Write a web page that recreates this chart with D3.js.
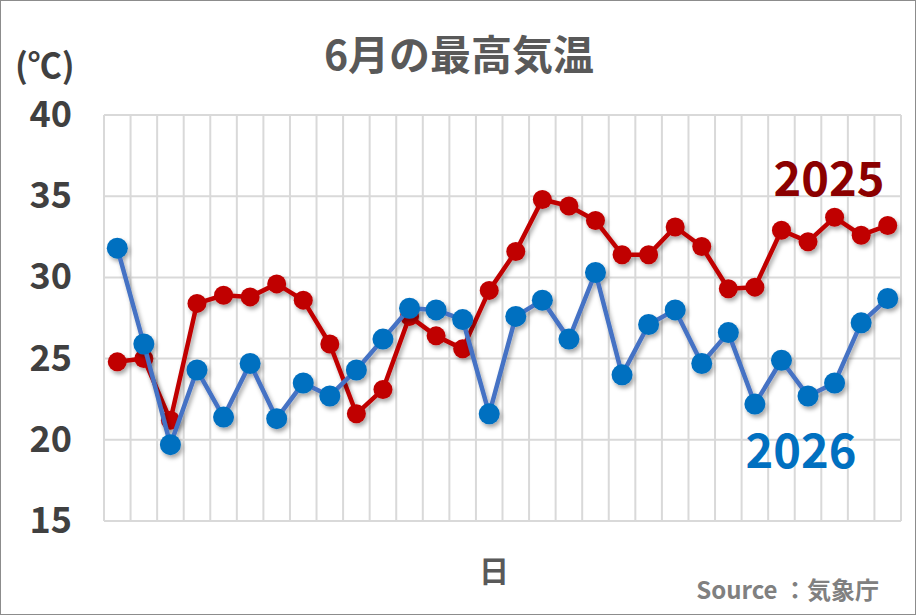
<!DOCTYPE html>
<html>
<head>
<meta charset="utf-8">
<script src="https://cdn.jsdelivr.net/npm/d3@7/dist/d3.min.js"></script>
<style>
  body{margin:0;background:#fff;}
  text{font-family:"Noto Sans CJK JP","Noto Sans",sans-serif;font-weight:bold;}
</style>
</head>
<body>
<div id="chart"></div>
<script>
// 日付 1..30
var days=d3.range(1,31);
var temp2025=[24.8,25.0,21.2,28.4,28.9,28.8,29.6,28.6,25.9,21.6,23.1,27.6,26.4,25.6,29.2,31.6,34.8,34.4,33.5,31.4,31.4,33.1,31.9,29.3,29.4,32.9,32.2,33.7,32.6,33.2];
var temp2026=[31.8,25.9,19.7,24.3,21.4,24.7,21.3,23.5,22.7,24.3,26.2,28.1,28.0,27.4,21.6,27.6,28.6,26.2,30.3,24.0,27.1,28.0,24.7,26.6,22.2,24.9,22.7,23.5,27.2,28.7];
var yTicks=[15,20,25,30,35,40];

var W=916,H=615;
var margin={top:115,right:15,bottom:94,left:104};
var width=W-margin.left-margin.right;
var height=H-margin.top-margin.bottom;

var svg=d3.select('#chart').append('svg')
    .attr('width',W).attr('height',H);

// 影
var defs=svg.append('defs');
defs.append('filter').attr('id','shadow')
    .attr('x','-20%').attr('y','-20%').attr('width','140%').attr('height','140%')
  .append('feDropShadow')
    .attr('dx',2).attr('dy',3).attr('stdDeviation',2)
    .attr('flood-color','#000').attr('flood-opacity',0.35);

// 枠
svg.append('rect').attr('x',0.5).attr('y',0.5).attr('width',W-1).attr('height',H-1)
    .attr('fill','#fff').attr('stroke','#8c8c8c').attr('stroke-width',1);

var g=svg.append('g').attr('transform','translate('+margin.left+','+margin.top+')');

var x=d3.scaleBand().domain(days).range([0,width]);
var y=d3.scaleLinear().domain([15,40]).range([height,0]);

// グリッド
g.selectAll('.hgrid').data(yTicks).enter().append('line')
    .attr('x1',0).attr('x2',width)
    .attr('y1',function(d){return y(d)}).attr('y2',function(d){return y(d)})
    .attr('stroke','#d9d9d9').attr('stroke-width',2);
g.selectAll('.vgrid').data(days.concat([31])).enter().append('line')
    .attr('x1',function(d,i){return i*x.bandwidth()}).attr('x2',function(d,i){return i*x.bandwidth()})
    .attr('y1',0).attr('y2',height)
    .attr('stroke','#d9d9d9').attr('stroke-width',2);

// Y軸ラベル
var yAxis=d3.axisLeft(y).tickValues(yTicks).tickSize(0).tickPadding(32);
var ya=g.append('g').call(yAxis);
ya.select('.domain').remove();
ya.selectAll('text').attr('font-size',36).attr('fill','#404040')
    .style('font-family','"Noto Sans CJK JP",sans-serif').style('font-weight','bold');

var line=d3.line()
    .x(function(d,i){return x(days[i])+x.bandwidth()/2})
    .y(function(d){return y(d)});

function drawSeries(data,lineColor,dotColor,r){
  var s=g.append('g').attr('filter','url(#shadow)');
  s.append('path').datum(data).attr('d',line)
      .attr('fill','none').attr('stroke',lineColor).attr('stroke-width',4.5)
      .attr('stroke-linejoin','round');
  s.selectAll('circle').data(data).enter().append('circle')
      .attr('cx',function(d,i){return x(days[i])+x.bandwidth()/2})
      .attr('cy',function(d){return y(d)})
      .attr('r',r).attr('fill',dotColor);
}
drawSeries(temp2025,'#c00000','#c00000',9.5);
drawSeries(temp2026,'#4472c4','#0070c0',10.5);

// タイトル等
svg.append('text').attr('x',459).attr('y',70).attr('text-anchor','middle')
    .attr('font-size',41).attr('fill','#595959').text('6月の最高気温');
svg.append('text').attr('x',15).attr('y',78)
    .attr('font-size',34).attr('fill','#404040').text('(℃)');
svg.append('text').attr('x',829).attr('y',196).attr('text-anchor','middle')
    .attr('font-size',47).attr('fill','#8b0000').text('2025');
svg.append('text').attr('x',801).attr('y',468).attr('text-anchor','middle')
    .attr('font-size',47).attr('fill','#0070c0').text('2026');
svg.append('text').attr('x',494).attr('y',582).attr('text-anchor','middle')
    .attr('font-size',30).attr('fill','#595959').text('日');
svg.append('text').attr('x',879).attr('y',599).attr('text-anchor','end')
    .attr('font-size',24).attr('fill','#808080').text('Source ：気象庁');
</script>
</body>
</html>
